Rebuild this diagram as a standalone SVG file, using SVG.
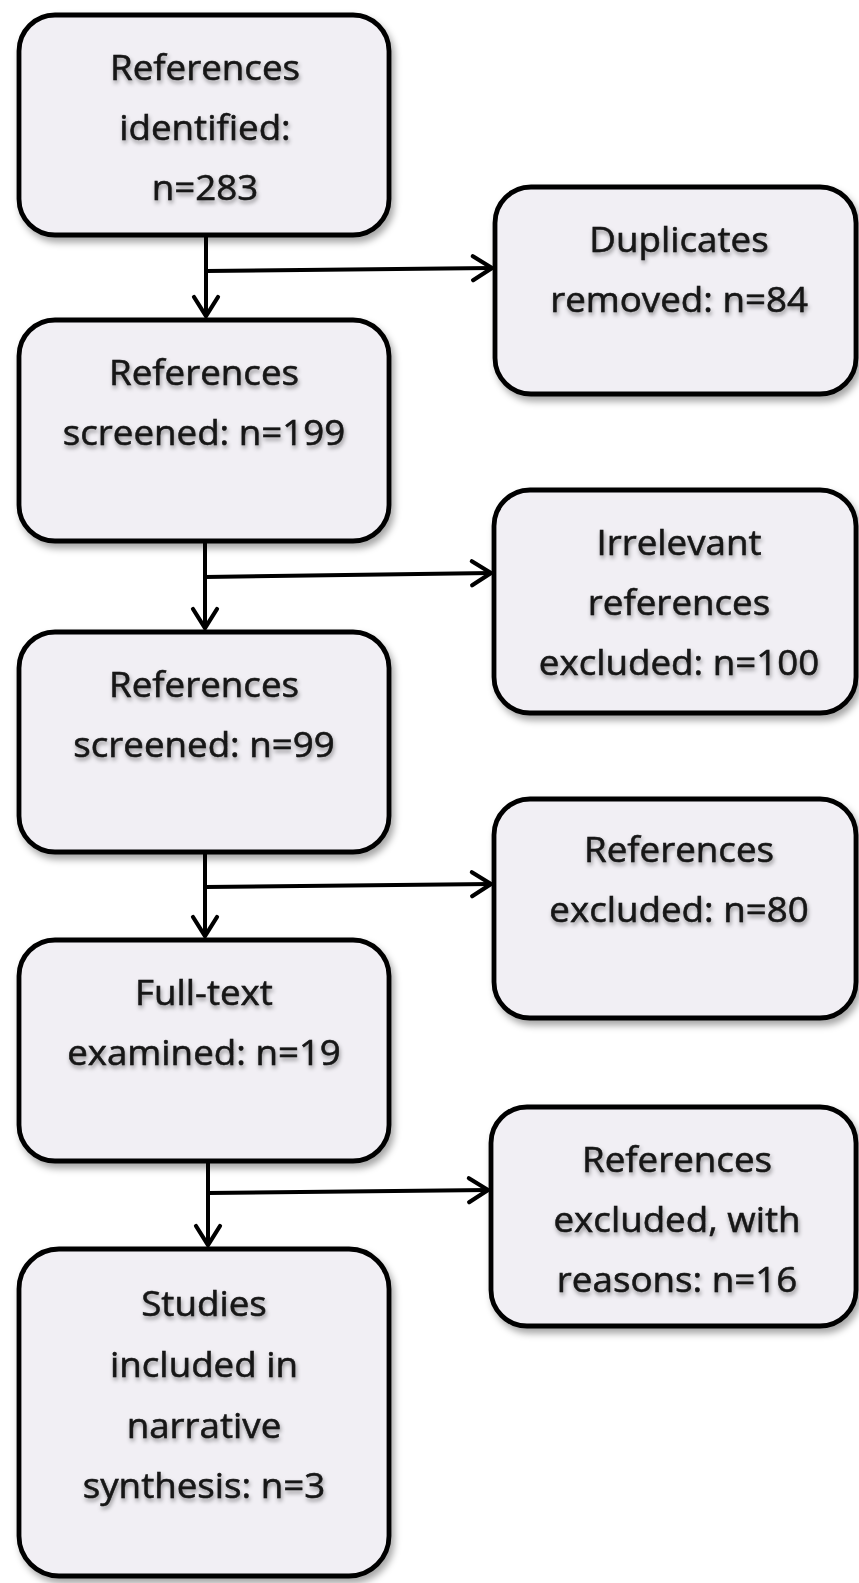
<svg xmlns="http://www.w3.org/2000/svg" width="859" height="1583" viewBox="0 0 859 1583">
<style>
.box{fill:#f1eff4;stroke:#000;stroke-width:4.8;filter:url(#bs)}
.t{font-family:"Open Sans","Noto Sans","Liberation Sans",sans-serif;font-size:34px;fill:#141414;stroke:#141414;stroke-width:0.5;text-anchor:middle;filter:url(#ts)}
.c{fill:none;stroke:#000;stroke-width:4}
</style>
<defs>
<filter id="bs" x="-10%" y="-10%" width="125%" height="125%"><feDropShadow dx="3" dy="5" stdDeviation="3.5" flood-color="#000" flood-opacity="0.35"/></filter>
<filter id="ts" x="-10%" y="-30%" width="120%" height="170%"><feDropShadow dx="1" dy="3" stdDeviation="2" flood-color="#000" flood-opacity="0.4"/></filter>
<marker id="arr" markerUnits="userSpaceOnUse" markerWidth="40" markerHeight="40" viewBox="-25 -20 30 40" refX="0" refY="0" orient="auto" overflow="visible"><path d="M-19,-12 L0,0 L-19,12" fill="none" stroke="#000" stroke-width="4.2" stroke-linecap="round"/></marker>
</defs>
<rect width="859" height="1583" fill="#fff"/>
<g id="connectors">
<path class="c" d="M206,237 L206,316" marker-end="url(#arr)"/>
<path class="c" d="M206,271 L492,268" marker-end="url(#arr)"/>
<path class="c" d="M205,543 L205,628" marker-end="url(#arr)"/>
<path class="c" d="M205,577 L491,573" marker-end="url(#arr)"/>
<path class="c" d="M205,854 L205,936" marker-end="url(#arr)"/>
<path class="c" d="M205,887 L491,884" marker-end="url(#arr)"/>
<path class="c" d="M208,1163 L208,1245" marker-end="url(#arr)"/>
<path class="c" d="M208,1193 L488,1190" marker-end="url(#arr)"/>
</g>
<g id="n1">
<rect class="box" x="19" y="15" width="370" height="220" rx="36"/>
<text class="t" transform="translate(205,80) scale(1.08,1)">References</text>
<text class="t" transform="translate(205,140) scale(1.08,1)">identified:</text>
<text class="t" transform="translate(205,200) scale(1.08,1)">n=283</text>
</g>
<g id="n2">
<rect class="box" x="19" y="320" width="370" height="221" rx="36"/>
<text class="t" transform="translate(204,385) scale(1.08,1)">References</text>
<text class="t" transform="translate(204,445) scale(1.08,1)">screened: n=199</text>
</g>
<g id="n3">
<rect class="box" x="19" y="632" width="370" height="220" rx="36"/>
<text class="t" transform="translate(204,697) scale(1.08,1)">References</text>
<text class="t" transform="translate(204,757) scale(1.08,1)">screened: n=99</text>
</g>
<g id="n4">
<rect class="box" x="19" y="940" width="370" height="221" rx="36"/>
<text class="t" transform="translate(204,1005) scale(1.08,1)">Full-text</text>
<text class="t" transform="translate(204,1065) scale(1.08,1)">examined: n=19</text>
</g>
<g id="n5">
<rect class="box" x="19" y="1249" width="370" height="327" rx="40"/>
<text class="t" transform="translate(204,1316) scale(1.08,1)">Studies</text>
<text class="t" transform="translate(204,1377) scale(1.08,1)">included in</text>
<text class="t" transform="translate(204,1438) scale(1.08,1)">narrative</text>
<text class="t" transform="translate(204,1498) scale(1.08,1)">synthesis: n=3</text>
</g>
<g id="r1">
<rect class="box" x="495" y="187" width="361" height="207" rx="36"/>
<text class="t" transform="translate(679,252) scale(1.08,1)">Duplicates</text>
<text class="t" transform="translate(679,312) scale(1.08,1)">removed: n=84</text>
</g>
<g id="r2">
<rect class="box" x="494" y="490" width="362" height="223" rx="36"/>
<text class="t" transform="translate(679,555) scale(1.08,1)">Irrelevant</text>
<text class="t" transform="translate(679,615) scale(1.08,1)">references</text>
<text class="t" transform="translate(679,675) scale(1.08,1)">excluded: n=100</text>
</g>
<g id="r3">
<rect class="box" x="494" y="799" width="362" height="219" rx="36"/>
<text class="t" transform="translate(679,862) scale(1.08,1)">References</text>
<text class="t" transform="translate(679,922) scale(1.08,1)">excluded: n=80</text>
</g>
<g id="r4">
<rect class="box" x="491" y="1107" width="365" height="219" rx="36"/>
<text class="t" transform="translate(677,1172) scale(1.08,1)">References</text>
<text class="t" transform="translate(677,1232) scale(1.08,1)">excluded, with</text>
<text class="t" transform="translate(677,1292) scale(1.08,1)">reasons: n=16</text>
</g>
</svg>
